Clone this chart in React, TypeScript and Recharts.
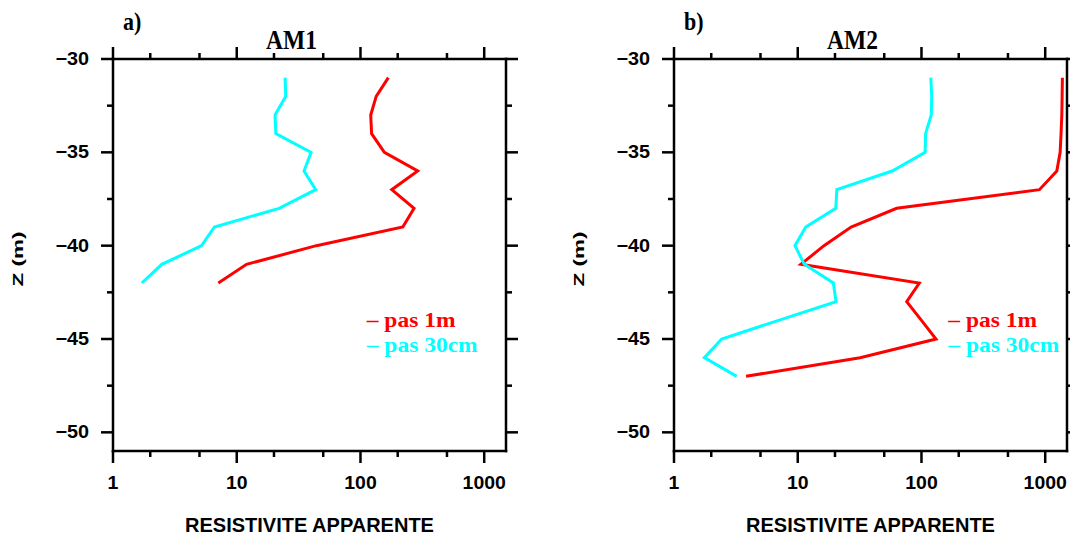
import React from "react";
import { LineChart, Line, XAxis, YAxis } from "recharts";

// ---- data ----
const depthsAM1 = [-31, -32, -33, -34, -35, -36, -37, -38, -39, -40, -41, -42];
const am1Pas1m = [168, 134, 121, 123, 156, 290, 179, 271, 220, 44, 12, 7.1];
const am1Pas30cm = [24.6, 24.9, 20.4, 20.7, 39.9, 35, 43.5, 22, 6.6, 5.2, 2.48, 1.71];

const depthsAM2 = [-31, -32, -33, -34, -35, -36, -37, -38, -39, -40, -41, -42, -43, -44, -45, -46, -47];
const am2Pas1m = [1377, 1370, 1362, 1343, 1320, 1241, 898, 63, 27, 16.3, 10.6, 96, 76, 100, 131, 31.9, 3.82];
const am2Pas30cm = [119, 121, 120, 108, 107, 58, 20.7, 20.3, 11.6, 9.5, 11.3, 19.4, 20.4, 7.0, 2.43, 1.76, 3.21];

const xTicks = [1, 2, 5, 10, 20, 50, 100, 200, 500, 1000];
const xMajor = [1, 10, 100, 1000];
const yTicks = [-50, -47.5, -45, -42.5, -40, -37.5, -35, -32.5, -30];
const xDomain = [1, 1500];
const yDomain = [-51, -30];

const seriesNames = ["pas 1m", "pas 30cm"];
const seriesColors = ["#ff0000", "#00ffff"];
const xTitle = "RESISTIVITE APPARENTE";
const yTitle = "Z (m)";

const zip = (xs: number[], zs: number[]) => zs.map((z, i) => ({ r: xs[i], z }));

const SANS = "'Liberation Sans', Arial, Helvetica, sans-serif";
const SERIF = "'Liberation Serif', 'Times New Roman', serif";
const AX = "#000";
const AXW = 2.5;

const isMajorY = (v: number) => Math.abs(v % 5) < 1e-6;

function SText(props: {
  x: number;
  y: number;
  sx?: number;
  sy?: number;
  anchor?: "start" | "middle" | "end";
  family: string;
  size: number;
  fill?: string;
  children: React.ReactNode;
}) {
  const { x, y, sx = 1, sy = 1, anchor = "start", family, size, fill = "#000" } = props;
  return (
    <text
      x={0}
      y={0}
      transform={`translate(${x} ${y}) scale(${sx} ${sy})`}
      textAnchor={anchor}
      fontFamily={family}
      fontWeight="bold"
      fontSize={size}
      fill={fill}
    >
      {props.children}
    </text>
  );
}

function BottomTick(props: any) {
  const { x, y, payload } = props;
  const major = xMajor.includes(payload.value);
  return (
    <g>
      <line x1={x} y1={y} x2={x} y2={y + (major ? 12 : 6)} stroke={AX} strokeWidth={AXW} />
      {major && (
        <SText x={x} y={y + 38} sx={1.08} anchor="middle" family={SANS} size={18}>
          {payload.value}
        </SText>
      )}
    </g>
  );
}
function TopTick(props: any) {
  const { x, y, payload } = props;
  const major = xMajor.includes(payload.value);
  return <line x1={x} y1={y} x2={x} y2={y - (major ? 12 : 6)} stroke={AX} strokeWidth={AXW} />;
}
function LeftTick(props: any) {
  const { x, y, payload } = props;
  const major = isMajorY(payload.value);
  return (
    <g>
      <line x1={x} y1={y} x2={x - (major ? 12 : 6)} y2={y} stroke={AX} strokeWidth={AXW} />
      {major && (
        <SText x={x - 24} y={y + 6} sx={1.1} anchor="end" family={SANS} size={18}>
          {"\u2212" + Math.abs(payload.value)}
        </SText>
      )}
    </g>
  );
}
function RightTick(props: any) {
  const { x, y, payload } = props;
  const major = isMajorY(payload.value);
  return <line x1={x} y1={y} x2={x + (major ? 12 : 6)} y2={y} stroke={AX} strokeWidth={AXW} />;
}

const axisLine = { stroke: AX, strokeWidth: AXW, strokeLinecap: "square" as const };

function Panel(props: {
  left: number;
  letter: string;
  title: string;
  s1: { r: number; z: number }[];
  s2: { r: number; z: number }[];
  legendDx: number;
}) {
  const W = 540;
  const H = 536;
  // plot area: left 113, top 59, right 506, bottom 451 (axes take 1px each)
  const m = { top: 58, bottom: 84, left: 112, right: 33 };
  const plotLeft = 113;
  const plotCx = plotLeft + 393 / 2;
  return (
    <div style={{ position: "absolute", left: props.left, top: 0, width: W, height: H }}>
      <LineChart width={W} height={H} margin={m}>
        <XAxis
          xAxisId="b"
          dataKey="r"
          type="number"
          scale="log"
          domain={xDomain}
          allowDataOverflow
          ticks={xTicks}
          interval={0}
          height={1}
          tickSize={0}
          tickMargin={0}
          tickLine={false}
          axisLine={axisLine}
          tick={<BottomTick />}
        />
        <XAxis
          xAxisId="t"
          orientation="top"
          dataKey="r"
          type="number"
          scale="log"
          domain={xDomain}
          allowDataOverflow
          ticks={xTicks}
          interval={0}
          height={1}
          tickSize={0}
          tickMargin={0}
          tickLine={false}
          axisLine={axisLine}
          tick={<TopTick />}
        />
        <YAxis
          yAxisId="l"
          dataKey="z"
          type="number"
          domain={yDomain}
          allowDataOverflow
          ticks={yTicks}
          interval={0}
          width={1}
          tickSize={0}
          tickMargin={0}
          tickLine={false}
          axisLine={axisLine}
          tick={<LeftTick />}
        />
        <YAxis
          yAxisId="r"
          orientation="right"
          dataKey="z"
          type="number"
          domain={yDomain}
          allowDataOverflow
          ticks={yTicks}
          interval={0}
          width={1}
          tickSize={0}
          tickMargin={0}
          tickLine={false}
          axisLine={axisLine}
          tick={<RightTick />}
        />
        <Line
          xAxisId="b"
          yAxisId="l"
          data={props.s1}
          dataKey="z"
          stroke={seriesColors[0]}
          strokeWidth={3}
          strokeLinejoin="miter"
          dot={false}
          isAnimationActive={false}
        />
        <Line
          xAxisId="b"
          yAxisId="l"
          data={props.s2}
          dataKey="z"
          stroke={seriesColors[1]}
          strokeWidth={3}
          strokeLinejoin="miter"
          dot={false}
          isAnimationActive={false}
        />
      </LineChart>
      <svg width={W} height={H} style={{ position: "absolute", left: 0, top: 0, pointerEvents: "none" }}>
        <SText x={123} y={29.5} sy={1.1} family={SERIF} size={22}>
          {props.letter}
        </SText>
        <SText x={plotCx - 18} y={49.3} sy={1.12} anchor="middle" family={SERIF} size={23.5}>
          {props.title}
        </SText>
        <SText x={plotCx} y={531.5} anchor="middle" family={SANS} size={20}>
          {xTitle}
        </SText>
        <text
          x={23.3}
          y={259}
          transform="rotate(-90 23.3 259)"
          textAnchor="middle"
          fontFamily={SANS}
          fontWeight="bold"
          fontSize={15}
          textLength={55}
          lengthAdjust="spacingAndGlyphs"
          fill="#000"
        >
          {yTitle}
        </text>
        <SText x={plotLeft + props.legendDx} y={327} sx={1.12} family={SERIF} size={21} fill={seriesColors[0]}>
          {"\u2013 " + seriesNames[0]}
        </SText>
        <SText x={plotLeft + props.legendDx} y={352} sx={1.12} family={SERIF} size={21} fill={seriesColors[1]}>
          {"\u2013 " + seriesNames[1]}
        </SText>
      </svg>
    </div>
  );
}

export default function App() {
  return (
    <div
      style={{
        position: "absolute",
        left: 0,
        top: 0,
        width: 1070,
        height: 536,
        overflow: "hidden",
        background: "#fff",
      }}
    >
      <Panel left={0} letter="a)" title="AM1" s1={zip(am1Pas1m, depthsAM1)} s2={zip(am1Pas30cm, depthsAM1)} legendDx={253.7} />
      <Panel left={561} letter="b)" title="AM2" s1={zip(am2Pas1m, depthsAM2)} s2={zip(am2Pas30cm, depthsAM2)} legendDx={274.3} />
    </div>
  );
}
